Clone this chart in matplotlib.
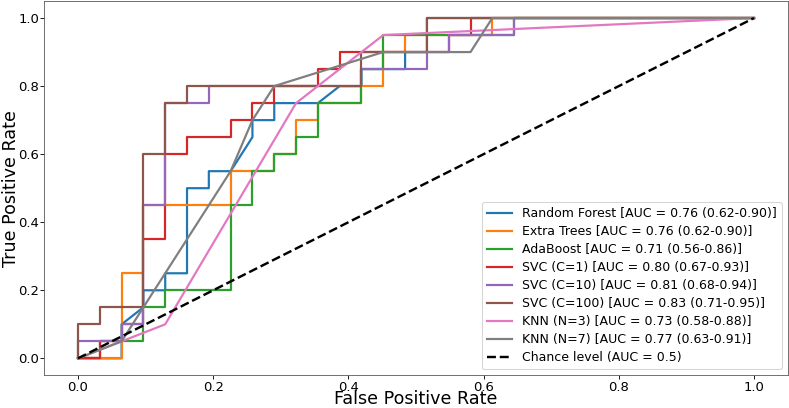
import matplotlib
matplotlib.use("Agg")
import matplotlib.pyplot as plt
import numpy as np

# Number of negatives (FPR step = 1/31); FPR values given as counts of negatives
N_NEG = 31

labels = [
    "Random Forest [AUC = 0.76 (0.62-0.90)]",
    "Extra Trees [AUC = 0.76 (0.62-0.90)]",
    "AdaBoost [AUC = 0.71 (0.56-0.86)]",
    "SVC (C=1) [AUC = 0.80 (0.67-0.93)]",
    "SVC (C=10) [AUC = 0.81 (0.68-0.94)]",
    "SVC (C=100) [AUC = 0.83 (0.71-0.95)]",
    "KNN (N=3) [AUC = 0.73 (0.58-0.88)]",
    "KNN (N=7) [AUC = 0.77 (0.63-0.91)]",
]

rf_fp = [0, 2, 2, 3, 3, 4, 4, 5, 5, 6, 6, 7, 8, 8, 9, 9, 11, 12, 13, 13, 15, 15, 16, 16, 31]
rf_tp = [0, 0, 0.1, 0.15, 0.2, 0.2, 0.25, 0.25, 0.5, 0.5, 0.55, 0.55, 0.65, 0.7, 0.7, 0.75, 0.75, 0.8, 0.8, 0.85, 0.85, 0.9, 0.9, 1.0, 1.0]

et_fp = [0, 2, 2, 3, 3, 7, 7, 9, 9, 10, 10, 11, 11, 13, 13, 14, 14, 15, 15, 19, 19, 31]
et_tp = [0, 0, 0.25, 0.25, 0.45, 0.45, 0.55, 0.55, 0.6, 0.6, 0.7, 0.7, 0.75, 0.75, 0.8, 0.8, 0.9, 0.9, 0.95, 0.95, 1.0, 1.0]

ada_fp = [0, 1, 1, 3, 3, 4, 4, 7, 7, 8, 8, 9, 9, 10, 10, 11, 11, 13, 13, 14, 14, 20, 20, 31]
ada_tp = [0, 0, 0.05, 0.05, 0.15, 0.15, 0.2, 0.2, 0.45, 0.45, 0.55, 0.55, 0.6, 0.6, 0.65, 0.65, 0.75, 0.75, 0.85, 0.85, 0.95, 0.95, 1.0, 1.0]

svc1_fp = [0, 1, 1, 2, 2, 3, 3, 4, 4, 5, 5, 7, 7, 8, 8, 9, 9, 11, 11, 12, 12, 17, 17, 18, 18, 31]
svc1_tp = [0, 0, 0.05, 0.05, 0.1, 0.1, 0.35, 0.35, 0.6, 0.6, 0.65, 0.65, 0.7, 0.7, 0.75, 0.75, 0.8, 0.8, 0.85, 0.85, 0.9, 0.9, 0.95, 0.95, 1.0, 1.0]

svc10_fp = [0, 0, 2, 2, 3, 3, 4, 4, 6, 6, 13, 13, 16, 16, 17, 17, 20, 20, 31]
svc10_tp = [0, 0.05, 0.05, 0.1, 0.1, 0.45, 0.45, 0.75, 0.75, 0.8, 0.8, 0.85, 0.85, 0.9, 0.9, 0.95, 0.95, 1.0, 1.0]

svc100_fp = [0, 0, 1, 1, 3, 3, 4, 4, 5, 5, 13, 13, 16, 16, 31]
svc100_tp = [0, 0.1, 0.1, 0.15, 0.15, 0.6, 0.6, 0.75, 0.75, 0.8, 0.8, 0.9, 0.9, 1.0, 1.0]

knn3_fp = [0, 4, 10, 14, 31]
knn3_tp = [0, 0.1, 0.75, 0.95, 1.0]

knn7_fp = [0, 2, 3, 7, 8, 9, 14, 18, 19, 31]
knn7_tp = [0, 0.05, 0.15, 0.55, 0.7, 0.8, 0.9, 0.9, 1.0, 1.0]

curves = [
    (rf_fp, rf_tp), (et_fp, et_tp), (ada_fp, ada_tp), (svc1_fp, svc1_tp),
    (svc10_fp, svc10_tp), (svc100_fp, svc100_tp), (knn3_fp, knn3_tp), (knn7_fp, knn7_tp),
]
colors = ["#1f77b4", "#ff7f0e", "#2ca02c", "#d62728", "#9467bd", "#8c564b", "#e377c2", "#7f7f7f"]

chance_x = [0, 1]
chance_y = [0, 1]
chance_label = "Chance level (AUC = 0.5)"

DPI = 78.9
W, H = 789, 408
fig = plt.figure(figsize=(W / DPI, H / DPI), dpi=DPI)
ax = fig.add_axes([0.056, 0.080, 0.9425, 0.9175])

for (fp, tp), c, lab in zip(curves, colors, labels):
    ax.plot(np.array(fp) / N_NEG, tp, color=c, lw=2, label=lab)

ax.plot(chance_x, chance_y, "k--", lw=2.2, label=chance_label)

ax.tick_params(labelsize=12, pad=1.5, length=3.2)
for s in ax.spines.values():
    s.set_edgecolor("#606060")

# axis labels placed in figure pixel terms
ax_h = 0.9175 * H
ax_w = 0.9425 * W
ax_bottom = (1 - 0.080) * H  # pixel row of bottom spine (from top)
ax.set_xlabel("False Positive Rate", fontsize=16, va="baseline")
ax.xaxis.set_label_coords(0.5, (ax_bottom - 404) / ax_h)
ax.set_ylabel("True Positive Rate", fontsize=16)
ax.yaxis.set_label_coords((20.5 - 0.056 * W) / ax_w, 0.5)

ax.legend(loc="lower right", fontsize=11.4, labelspacing=0.4)

fig.savefig("out.png", dpi=DPI)
